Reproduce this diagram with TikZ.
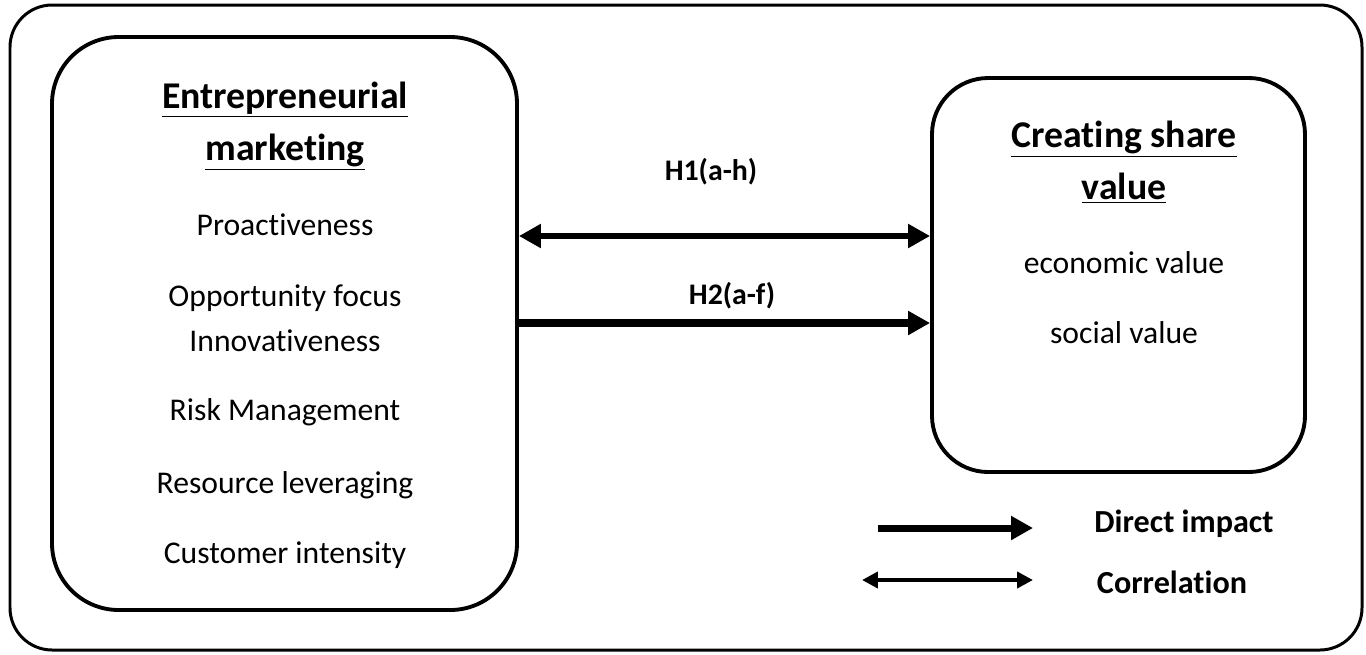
\documentclass[tikz,border=0pt]{standalone}
\usepackage{fontspec}
\setmainfont{Carlito}[Ligatures=NoCommon]
\usetikzlibrary{positioning, arrows.meta, calc}

\tikzset{
  panel/.style={draw, line width=2.2pt, rounded corners=38pt},
  itemtext/.style={font=\fontsize{18}{21}\selectfont, align=center},
  headtext/.style={font=\fontsize{21.5}{29.5}\selectfont\bfseries, align=center},
  hyplabel/.style={font=\fontsize{17}{20}\selectfont\bfseries},
  legendtext/.style={font=\fontsize{18.3}{21}\selectfont\bfseries},
  impact/.style={line width=4pt, -{Triangle[length=12.5pt, width=13pt]}},
  correl/.style={line width=3.6pt, {Triangle[length=12.5pt, width=13pt]}-{Triangle[length=12.5pt, width=13pt]}},
}

\begin{document}
\begin{tikzpicture}[x=0.02cm, y=-0.02cm]
    \useasboundingbox (0,0) rectangle (1366,654);
    % outer frame
    \draw[line width=1.7pt, rounded corners=24pt] (10,5) rectangle (1362,650);

    % the two constructs
    \node[panel, minimum width=465*0.02cm, minimum height=573*0.02cm] (em) at (284.5,323.5) {};
    \node[panel, rounded corners=32pt, minimum width=373*0.02cm, minimum height=394*0.02cm] (csv) at (1118.5,275) {};

    \node[headtext] (emtitle) at (285,126) {\underline{Entrepreneurial}\\\underline{marketing}};
    \foreach \name/\txt/\y in {pro/Proactiveness/225, opp/Opportunity focus/298, inn/Innovativeness/341,
                               risk/Risk Management/412, res/Resource leveraging/485, cust/Customer intensity/555} {
      \node[itemtext] (\name) at (285,\y) {\txt};
    }

    \node[headtext] (csvtitle) at (1124,162) {\underline{Creating share}\\\underline{value}};
    \node[itemtext] (eco) at (1124,263) {economic value};
    \node[itemtext] (soc) at (1124,333) {social value};

    % hypotheses
    \draw[correl] (em.east |- 0,236) -- (csv.west |- 0,236);
    \draw[impact] (em.east |- 0,323) -- (csv.west |- 0,323);
    \node[hyplabel] (h1) at (711,172) {H1(a-h)};
    \node[hyplabel] (h2) at (732,296) {H2(a-f)};

    % legend
    \coordinate (d0) at (878,528);
    \coordinate (d1) at (1033,528);
    \coordinate (c0) at (862,580);
    \coordinate (c1) at (1033,580);
    \draw[impact] (d0) -- (d1);
    \draw[line width=2.6pt, {Triangle[length=9pt, width=9pt]}-{Triangle[length=9pt, width=9pt]}] (c0) -- (c1);
    \node[legendtext] (ldirect) at (1184,524) {Direct impact};
    \node[legendtext] (lcorr) at (1172,582) {Correlation};
\end{tikzpicture}
\end{document}
